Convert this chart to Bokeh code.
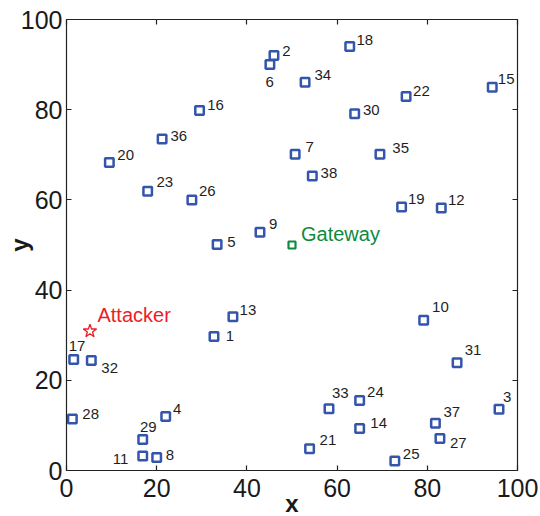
from bokeh.plotting import figure
from bokeh.models import ColumnDataSource, LinearAxis, FixedTicker, Range1d, CustomLabelingPolicy
from bokeh.embed import file_html
from bokeh.resources import INLINE
from bokeh.core.properties import value

# ---------------- data ----------------
node_ids = list(range(1, 39))
node_x = [32.7, 46.0, 95.9, 22.0, 33.4, 45.1, 50.7, 20.0, 42.9, 79.2,
          16.9, 83.1, 36.9, 65.0, 94.4, 29.5, 1.6, 62.8, 74.3, 9.5,
          53.9, 75.3, 18.0, 65.0, 72.8, 27.8, 82.8, 1.3, 16.9, 63.9,
          86.6, 5.5, 58.2, 52.9, 69.5, 21.2, 81.8, 54.5]
node_y = [29.7, 92.0, 13.6, 12.0, 50.1, 90.0, 70.1, 2.9, 52.8, 33.3,
          3.2, 58.2, 34.1, 9.3, 85.0, 79.8, 24.6, 94.0, 58.4, 68.3,
          4.8, 82.9, 61.9, 15.5, 2.1, 60.0, 7.1, 11.4, 6.9, 79.1,
          23.9, 24.4, 13.7, 86.1, 70.1, 73.5, 10.5, 65.3]
gateway_x = [50.0]
gateway_y = [50.0]
gateway_label = ["Gateway"]
attacker_x = [5.2]
attacker_y = [30.9]
attacker_label = ["Attacker"]
axis_ticks = [0, 20, 40, 60, 80, 100]

# ---------------- label placement (screen px, relative to marker) ----------------
label_dx = [11.7, 8.4, 4, 7.3, 10, -4.5, 10.3, 9, 9, 8.4,
            -30, 6.7, 6.7, 10.7, 5.6, 7.7, -5, 6.7, 6.3, 8,
            10, 7, 8.7, 7.4, 8, 7, 10, 10, -2.7, 8.3,
            7.6, 10, 3, 9.3, 12.4, 8.3, 8, 8.3]
label_dy = [-1, -5, -12, -7.4, -3, 17, -7.3, -2.4, -8, -13,
            2.6, -8.3, -7, -6, -7.7, -6, -14, -7, -7.7, -7,
            -9, -6, -9, -8.6, -7.4, -8.6, 4.3, -4.7, -12, -3.3,
            -13, 7.3, -15.6, -7.4, -6.3, -2.6, -11, -3.4]

FONT = "Liberation Sans"
BLUE = "#3355AA"
GREEN = "#0E8A3F"
RED = "#EE1D25"

p = figure(frame_width=451, frame_height=451,
           x_range=Range1d(0, 100), y_range=Range1d(0, 100),
           output_backend="svg", toolbar_location=None,
           min_border_left=66, min_border_right=23, min_border_top=19, min_border_bottom=46)
p.grid.visible = False
p.outline_line_color = None
p.background_fill_color = "white"
p.border_fill_color = "white"

ticker = FixedTicker(ticks=axis_ticks)
for ax in (p.xaxis[0], p.yaxis[0]):
    ax.ticker = ticker
    ax.major_tick_in = 5
    ax.major_tick_out = 0
    ax.minor_tick_line_color = None
    ax.axis_line_color = "#222222"
    ax.axis_line_width = 1.2
    ax.major_tick_line_color = "#222222"
    ax.major_tick_line_width = 1.2
    ax.major_label_text_font = FONT
    ax.major_label_text_font_size = "25px"
    ax.major_label_text_color = "#1a1a1a"
    ax.axis_label_text_font = FONT
    ax.axis_label_text_font_size = "24px"
    ax.axis_label_text_font_style = "bold"
    ax.axis_label_text_color = "#1a1a1a"
p.xaxis[0].axis_label = "x"
p.yaxis[0].axis_label = "y"
p.xaxis[0].major_label_standoff = 8
p.xaxis[0].axis_label_standoff = -10
p.yaxis[0].major_label_standoff = 4
p.yaxis[0].axis_label_standoff = -15

no_labels = CustomLabelingPolicy(code="for (const i of indices) { indices.unset(i) } return indices")
for loc in ("above", "right"):
    ax = LinearAxis(ticker=ticker, major_tick_in=5, major_tick_out=0,
                    minor_tick_line_color=None, axis_line_color="#222222",
                    axis_line_width=1.2, major_tick_line_color="#222222",
                    major_tick_line_width=1.2, major_label_policy=no_labels,
                    major_label_text_font_size="10px", major_label_standoff=0)
    p.add_layout(ax, loc)

src = ColumnDataSource(dict(x=node_x, y=node_y, t=[str(i) for i in node_ids],
                            dx=label_dx, dy=label_dy))
p.scatter("x", "y", source=src, marker="square", size=8.5, line_color=BLUE,
          line_width=2.5, fill_color="white")
p.text("x", "y", text="t", source=src, x_offset="dx", y_offset="dy",
       text_font=value(FONT), text_font_size="15px", text_color="#1f1f1f",
       text_align="left", text_baseline="middle")

gsrc = ColumnDataSource(dict(x=gateway_x, y=gateway_y, t=gateway_label))
p.scatter("x", "y", source=gsrc, marker="square", size=7, line_color=GREEN,
          line_width=2.2, fill_color="white")
p.text("x", "y", text="t", source=gsrc, x_offset=9, y_offset=-11,
       text_font=value(FONT), text_font_size="20px", text_color=GREEN,
       text_align="left", text_baseline="middle")

asrc = ColumnDataSource(dict(x=attacker_x, y=attacker_y, t=attacker_label))
p.scatter("x", "y", source=asrc, marker="star", size=14, line_color=RED,
          line_width=1.3, fill_color="white")
p.text("x", "y", text="t", source=asrc, x_offset=7.5, y_offset=-16,
       text_font=value(FONT), text_font_size="20px", text_color=RED,
       text_align="left", text_baseline="middle")

open("out.html", "w").write(file_html(p, INLINE))
